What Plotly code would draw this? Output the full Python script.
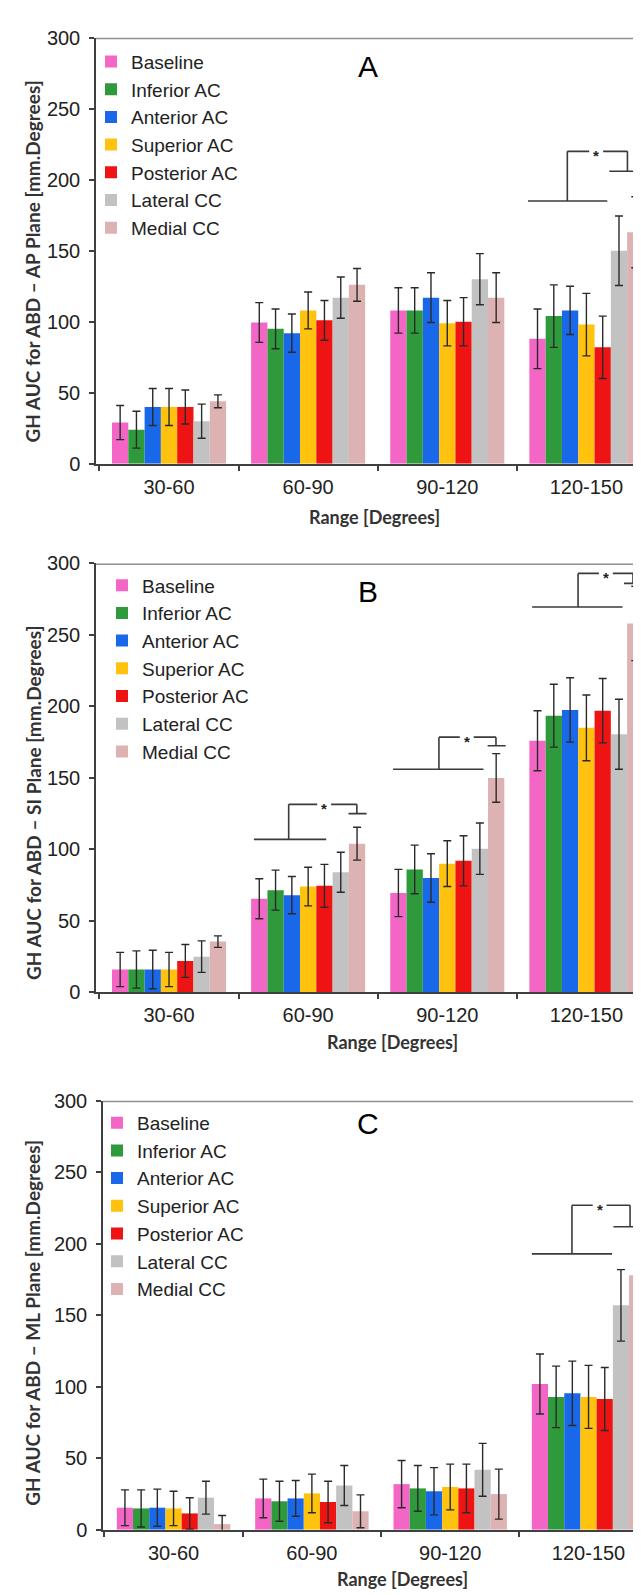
import plotly.graph_objects as go

# ---------------- data ----------------
categories = ["30-60", "60-90", "90-120", "120-150"]
series_names = ["Baseline", "Inferior AC", "Anterior AC", "Superior AC",
                "Posterior AC", "Lateral CC", "Medial CC"]
colors = ["#F466C6", "#2F9A3C", "#1A68EA", "#FFC20E", "#EE1414", "#C2C2C2", "#DDB2B2"]

# Panel A: AP plane (mean, SD) per series, per range
ap_means = [[29, 99.5, 108, 88],
            [24, 95, 108, 104],
            [40, 92, 117, 108],
            [40, 108, 99, 98],
            [40, 101, 100, 82],
            [30, 117, 130, 150],
            [44, 126, 117, 163]]
ap_errs = [[12, 14, 16, 21],
           [13, 14, 16, 22],
           [13, 13.5, 17.5, 17],
           [13, 13, 16, 22],
           [12, 14, 17, 22],
           [12, 14.5, 18, 24.5],
           [4.5, 11.5, 17.5, 25]]

# Panel B: SI plane
si_means = [[16, 65.5, 69.5, 176],
            [16, 71.5, 86, 193.5],
            [16, 68, 80, 197.5],
            [16, 74, 90, 185],
            [22, 74.5, 92, 197],
            [25, 84, 100.5, 180.5],
            [35.5, 104, 150, 258]]
si_errs = [[12, 14, 16.5, 21],
           [13, 14, 17, 22],
           [13.5, 13, 17, 22.5],
           [12, 13.5, 16, 23],
           [11.5, 15, 17.5, 22.5],
           [11, 14, 18, 24.5],
           [4, 11.5, 17, 26]]

# Panel C: ML plane
ml_means = [[15.5, 22, 32, 102],
            [15, 20, 29, 93],
            [15.5, 22, 27, 95.5],
            [15, 25.5, 30, 93],
            [11.5, 19.5, 29, 91.5],
            [22.5, 31, 42, 157],
            [4, 13, 25, 178]]
ml_errs = [[12.5, 13.5, 16.5, 21],
           [13, 14, 16, 21.5],
           [13, 12.5, 16.5, 22.5],
           [12, 13.5, 16, 22],
           [11, 14.5, 17, 22],
           [11.5, 14, 18.5, 25],
           [6, 11.5, 17.5, 25]]

# significance brackets: (category index, low line level, top level, right level)
ap_brackets = [(3, 185, 220, 206)]
si_brackets = [(1, 107, 131.5, 125), (2, 156, 178.5, 172.5), (3, 269.5, 293, 286)]
ml_brackets = [(3, 193, 227, 212)]

y_titles = ["GH AUC for ABD \u2013 AP Plane [mm.Degrees]",
            "GH AUC for ABD \u2013 SI Plane [mm.Degrees]",
            "GH AUC for ABD \u2013 ML Plane [mm.Degrees]"]
panel_letters = ["A", "B", "C"]
x_title = "Range [Degrees]"

# ---------------- layout geometry (pixels) ----------------
W, H = 641, 1595
def py(px):
    return 1 - px / H

panels = [
    dict(means=ap_means, errs=ap_errs, brackets=ap_brackets,
         top=19, bottom=451, left=88, xr=[-0.525, 3.45],
         leg_x=83, leg_top=24, ytitle_y=246, xtitle=(366, 505), letter_y=48,
         brk=[dict(lo=(-0.42, 0.15), lv=-0.137, rv=0.295, sh=(0.165, 0.45), st=0.07)]),
    dict(means=si_means, errs=si_errs, brackets=si_brackets,
         top=552, bottom=987, left=88, xr=[-0.525, 3.45],
         leg_x=94, leg_top=555, ytitle_y=795, xtitle=(384, 1037), letter_y=580,
         brk=[dict(lo=(-0.39, 0.13), lv=-0.14, rv=0.35, sh=(0.29, 0.42), st=0.115),
              dict(lo=(-0.39, 0.26), lv=-0.06, rv=0.35, sh=(0.29, 0.42), st=0.14),
              dict(lo=(-0.39, 0.26), lv=-0.06, rv=0.335, sh=(0.27, 0.41), st=0.14)]),
    dict(means=ml_means, errs=ml_errs, brackets=ml_brackets,
         top=1097, bottom=1532, left=95, xr=[-0.51, 3.437],
         leg_x=89, leg_top=1100, ytitle_y=1322, xtitle=(394, 1582), letter_y=1120,
         brk=[dict(lo=(-0.41, 0.17), lv=-0.12, rv=0.30, sh=(0.18, 0.45), st=0.08)]),
]

tick_font = dict(family="Liberation Sans, Arial, sans-serif", size=20, color="#222222")
legend_font = dict(family="Liberation Sans, Arial, sans-serif", size=19, color="#222222")
title_font = dict(family="Lato, Liberation Sans, sans-serif", size=18, color="#333333")
ytitle_font = dict(family="Lato, Liberation Sans, sans-serif", size=19, color="#333333")
line_col = "#404040"

fig = go.Figure()
layout = dict(width=W, height=H, margin=dict(l=0, r=0, t=0, b=0),
              paper_bgcolor="white", plot_bgcolor="white",
              barmode="group", bargap=0.18, bargroupgap=0.0,
              showlegend=True, shapes=[], annotations=[])

for p_i, p in enumerate(panels):
    sfx = "" if p_i == 0 else str(p_i + 1)
    xa, ya = "x" + sfx, "y" + sfx
    leg = "legend" + sfx
    for s_i, name in enumerate(series_names):
        fig.add_trace(go.Bar(
            x=categories, y=p["means"][s_i], name=name,
            marker=dict(color=colors[s_i], line=dict(width=0)),
            error_y=dict(type="data", array=p["errs"][s_i], visible=True,
                         color="#2a2a2a", thickness=1.4, width=4),
            xaxis=xa, yaxis=ya, legend=leg, showlegend=True,
            offsetgroup=str(s_i)))
    layout["xaxis" + sfx] = dict(
        domain=[p["left"] / W, 1], range=p["xr"], type="category",
        categoryorder="array", categoryarray=categories, anchor=ya,
        showline=True, linecolor=line_col, linewidth=2, ticks="outside",
        tickson="boundaries", ticklen=5, tickcolor=line_col, tickwidth=1.5,
        tickfont=tick_font, showgrid=False, zeroline=False, fixedrange=True,
        ticklabelstandoff=4)
    layout["yaxis" + sfx] = dict(
        domain=[py(p["bottom"]), py(p["top"])], range=[0, 300], dtick=50,
        anchor=xa, showline=True, linecolor=line_col, linewidth=1.5,
        ticks="outside", ticklen=5, tickcolor=line_col, tickwidth=1.5,
        tickfont=tick_font, showgrid=False, zeroline=False, fixedrange=True,
        ticklabelstandoff=5)
    layout[leg] = dict(x=p["leg_x"] / W, xanchor="left", y=py(p["leg_top"]),
                       yanchor="top", bgcolor="rgba(0,0,0,0)", borderwidth=0,
                       font=legend_font, traceorder="normal",
                       itemclick=False, itemdoubleclick=False)
    # top frame line
    layout["shapes"].append(dict(type="line", xref=xa + " domain", x0=0, x1=1,
                                 yref=ya, y0=300, y1=300,
                                 line=dict(color="#8f8f8f", width=3)))
    # brackets
    for (cat, lo_y, top_y, r_y), g in zip(p["brackets"], p["brk"]):
        segs = [((cat + g["lo"][0], lo_y), (cat + g["lo"][1], lo_y)),
                ((cat + g["lv"], lo_y), (cat + g["lv"], top_y)),
                ((cat + g["lv"], top_y), (cat + g["st"] - 0.05, top_y)),
                ((cat + g["st"] + 0.05, top_y), (cat + g["rv"], top_y)),
                ((cat + g["rv"], top_y), (cat + g["rv"], r_y)),
                ((cat + g["sh"][0], r_y), (cat + g["sh"][1], r_y))]
        for (x0, y0), (x1, y1) in segs:
            layout["shapes"].append(dict(type="line", xref=xa, yref=ya,
                                         x0=x0, y0=y0, x1=x1, y1=y1,
                                         line=dict(color="#3a3a3a", width=1.6)))
        layout["annotations"].append(dict(
            xref=xa, yref=ya, x=cat + g["st"], y=top_y, text="<b>*</b>",
            showarrow=False, yanchor="middle", yshift=-4,
            font=dict(family="Liberation Sans, Arial", size=15, color="#222")))
    # panel letter
    layout["annotations"].append(dict(
        xref="paper", yref="paper", x=360 / W, y=py(p["letter_y"]),
        text=panel_letters[p_i], showarrow=False, xanchor="center", yanchor="middle",
        font=dict(family="Liberation Sans, Arial", size=30, color="black")))
    # axis titles
    layout["annotations"].append(dict(
        xref="paper", yref="paper", x=25 / W, y=py(p["ytitle_y"]),
        text="<b>" + y_titles[p_i] + "</b>", textangle=-90, showarrow=False,
        xanchor="center", yanchor="middle", font=ytitle_font))
    layout["annotations"].append(dict(
        xref="paper", yref="paper", x=p["xtitle"][0] / W, y=py(p["xtitle"][1]),
        text="<b>" + x_title + "</b>", showarrow=False,
        xanchor="center", yanchor="middle", font=title_font))

fig.update_layout(**layout)
fig.write_html("out.html")
